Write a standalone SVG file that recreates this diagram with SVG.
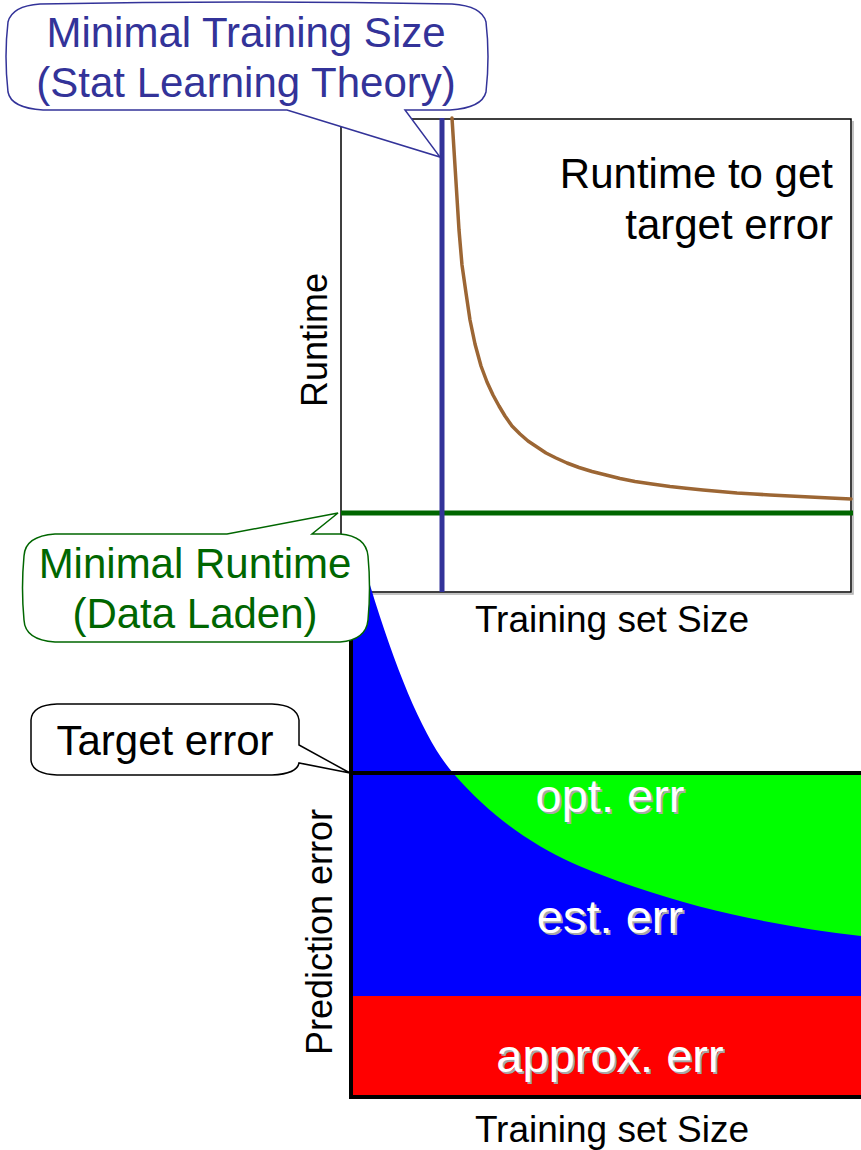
<svg xmlns="http://www.w3.org/2000/svg" width="861" height="1150" viewBox="0 0 861 1150">
<style>
text{font-family:"Liberation Sans",Arial,sans-serif}
.t42{font-size:42px;text-anchor:middle}
.ax{font-size:37px;text-anchor:middle;fill:#000}
.axv{font-size:36px;text-anchor:middle;fill:#000}
.lbl{font-size:47px;text-anchor:middle;fill:#fff}
.sh{font-size:47px;text-anchor:middle;fill:#a8a8a8}
.axis{stroke:#000;stroke-width:4;fill:none}
</style>
<rect width="861" height="1150" fill="#fff"/>

<g id="runtime-chart">
  <path d="M853,121 L853,594 L343,594" fill="none" stroke="#b0b0b0" stroke-width="1.5"/>
  <rect x="341" y="119" width="510" height="473" fill="none" stroke="#000" stroke-width="1.5"/>
  <line x1="341" y1="513" x2="853" y2="513" stroke="#006600" stroke-width="5"/>
  <polyline fill="none" stroke="#9c6634" stroke-width="3.5" stroke-linejoin="round" stroke-linecap="round" points="452,118 454,150 456.5,190 459,230 462,265 466,293 470,320 475,344 481,366 487,382 493,395 499,406 505,416 512,426 520,434 528,441 537,447 546,453 556,458 567,463 579,467.5 592,471.5 606,475 620,478.5 635,481.5 652,484 670,486.5 686,488.3 703,490 720,491.6 737,493 754,494 770,495 790,496 810,497 830,498 851,499"/>
  <line x1="442" y1="118" x2="442" y2="592" stroke="#333399" stroke-width="5"/>
  <text class="t42" x="833" y="188" style="text-anchor:end">Runtime to get</text>
  <text class="t42" x="833" y="239" style="text-anchor:end">target error</text>
  <text class="axv" transform="translate(327,340) rotate(-90)">Runtime</text>
  <text class="ax" x="612" y="632">Training set Size</text>
</g>

<g id="error-chart">
  <rect x="353" y="773" width="508" height="224" fill="#00ff00"/>
  <path d="M353,585 L370,585 C397.7,676.3 425.3,741.1 453,773 C513.7,842.8 574.3,866.2 635,887 C710.3,912.8 785.7,927 861,936 L861,997 L353,997 Z" fill="#0000ff"/>
  <rect x="353" y="996" width="508" height="101" fill="#ff0000"/>
  <line x1="351" y1="773" x2="861" y2="773" class="axis"/>
  <line x1="351" y1="585" x2="351" y2="1099" class="axis"/>
  <line x1="349" y1="1097" x2="861" y2="1097" class="axis"/>
  <text class="sh" x="612" y="814">opt. err</text>
  <text class="lbl" x="610" y="812">opt. err</text>
  <text class="sh" x="612" y="935">est. err</text>
  <text class="lbl" x="610" y="933">est. err</text>
  <text class="sh" x="612" y="1074">approx. err</text>
  <text class="lbl" x="610" y="1072">approx. err</text>
  <text class="axv" transform="translate(332,932) rotate(-90)">Prediction error</text>
  <text class="ax" x="612" y="1142">Training set Size</text>
</g>

<g id="callout-training">
  <path d="M40,4 Q246,0 452,4 Q482,6 486,22 Q490,56 486,92 Q482,108 450,110 L405,110 L440,157 L287,110 L43,110 Q11,108 8,92 Q4,56 8,22 Q12,6 40,4 Z" fill="#fff" stroke="#333399" stroke-width="1.5"/>
  <text class="t42" x="246" y="47" fill="#333399">Minimal Training Size</text>
  <text class="t42" x="246" y="97" fill="#333399">(Stat Learning Theory)</text>
</g>

<g id="callout-runtime">
  <path d="M55,534 L227,534 L338,513 L312,534 L340,534 Q366,536 368,556 Q371,588 368,620 Q366,640 340,642 L55,642 Q25,640 24,620 Q21,588 24,556 Q25,536 55,534 Z" fill="#fff" stroke="#006600" stroke-width="1.5"/>
  <text class="t42" x="195" y="578" fill="#006600">Minimal Runtime</text>
  <text class="t42" x="195" y="628" fill="#006600">(Data Laden)</text>
</g>

<g id="callout-target">
  <path d="M57,704 L272,704 Q297,705 299,720 L299,745 L350,773 L299,763 Q297,774 272,775 L57,775 Q32,774 31,760 L31,720 Q32,705 57,704 Z" fill="#fff" stroke="#000" stroke-width="1.5"/>
  <text class="t42" x="165" y="755" fill="#000">Target error</text>
</g>
</svg>
